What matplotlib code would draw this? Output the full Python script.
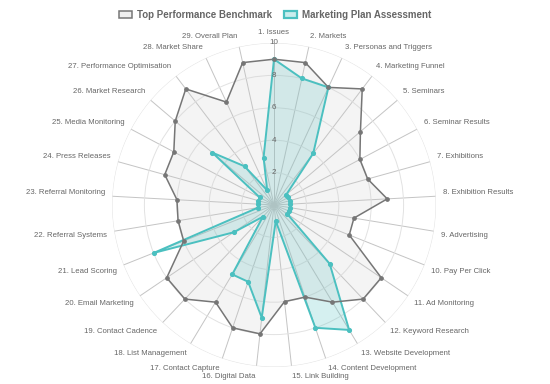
import numpy as np
import matplotlib
matplotlib.use('Agg')
import matplotlib.pyplot as plt
from matplotlib.patches import Patch

plt.rcParams['font.family'] = ['Liberation Sans', 'DejaVu Sans']

LABELS = [
    '1. Issues', '2. Markets', '3. Personas and Triggers', '4. Marketing Funnel',
    '5. Seminars', '6. Seminar Results', '7. Exhibitions', '8. Exhibition Results',
    '9. Advertising', '10. Pay Per Click', '11. Ad Monitoring', '12. Keyword Research',
    '13. Website Development', '14. Content Development', '15. Link Building',
    '16. Digital Data', '17. Contact Capture', '18. List Management',
    '19. Contact Cadence', '20. Email Marketing', '21. Lead Scoring',
    '22. Referral Systems', '23. Referral Monitoring', '24. Press Releases',
    '25. Media Monitoring', '26. Market Research', '27. Performance Optimisation',
    '28. Market Share', '29. Overall Plan',
]

BENCHMARK = [9, 9, 8, 9, 7, 6, 6, 7, 5, 5, 8, 8, 7, 6, 6, 8, 8, 7, 8, 8, 6, 6, 6, 7, 7, 8, 9, 7, 9]
ASSESSMENT = [9, 8, 8, 4, 1, 1, 1, 1, 1, 1, 1, 5, 9, 8, 1, 7, 5, 5, 1, 3, 8, 1, 1, 1, 1, 5, 3, 1, 3]

TICKS = [2, 4, 6, 8, 10]

GRAY_LINE = '#767676'
TEAL = '#4bc0c0'
TEXT = '#666666'


def closed(values):
    return list(values) + [values[0]]


def main():

    fig = plt.figure(figsize=(5.5, 3.84), dpi=100)

    # centre ~ (274, 205) px, radius ~162 px
    ax = fig.add_axes([112 / 550, (384 - 205 - 162) / 384, 324 / 550, 324 / 384], projection='polar')
    ax.set_theta_zero_location('N')
    ax.set_theta_direction(-1)
    ax.set_ylim(0, 10)

    n = len(LABELS)
    angles = np.arange(n) * 2 * np.pi / n
    ang_c = closed(angles)

    ax.spines['polar'].set_visible(False)
    ax.set_xticks(angles)
    ax.set_xticklabels([])
    ax.set_yticks(TICKS)
    ax.set_yticklabels([])
    ax.xaxis.grid(True, color='#c4c4c4', lw=0.7)
    ax.yaxis.grid(True, color='#e2e2e2', lw=0.7)
    ax.tick_params(length=0)

    # assessment first, benchmark drawn over it
    ax.fill(ang_c, closed(ASSESSMENT), color=TEAL, alpha=0.23, lw=0, zorder=2)
    ax.plot(ang_c, closed(ASSESSMENT), color=TEAL, lw=1.4, zorder=3)
    ax.plot(angles, ASSESSMENT, 'o', ms=2.7, color=TEAL, zorder=4)

    ax.fill(ang_c, closed(BENCHMARK), color='#c8c8c8', alpha=0.2, lw=0, zorder=2)
    ax.plot(ang_c, closed(BENCHMARK), color=GRAY_LINE, lw=1.1, zorder=3)
    ax.plot(angles, BENCHMARK, 'o', ms=2.4, color=GRAY_LINE, zorder=4)

    for t in TICKS:
        ax.text(0, t, str(t), ha='center', va='center', fontsize=5.8, color=TEXT, zorder=5)

    for a, lab in zip(angles, LABELS):
        deg = np.degrees(a)
        if np.isclose(deg, 0) or np.isclose(deg, 180):
            ha = 'center'
        elif deg < 180:
            ha = 'left'
        else:
            ha = 'right'
        va = 'bottom' if (deg < 90 or deg > 270) else 'top'
        ax.text(a, 10.45, lab, ha=ha, va=va, fontsize=5.6, color=TEXT, clip_on=False)

    handles = [
        Patch(facecolor='#efefef', edgecolor=GRAY_LINE, lw=1.1, label='Top Performance Benchmark'),
        Patch(facecolor='#c9eded', edgecolor=TEAL, lw=1.6, label='Marketing Plan Assessment'),
    ]
    leg = fig.legend(handles=handles, loc='center', bbox_to_anchor=(0.5, 0.961), ncol=2,
                     frameon=False, handlelength=1.4, handleheight=0.8, handletextpad=0.5,
                     columnspacing=1.2, prop={'size': 7, 'weight': 'bold'})
    for txt in leg.get_texts():
        txt.set_color(TEXT)

    fig.savefig('out.png', dpi=100, facecolor='white')


if __name__ == '__main__':
    main()
